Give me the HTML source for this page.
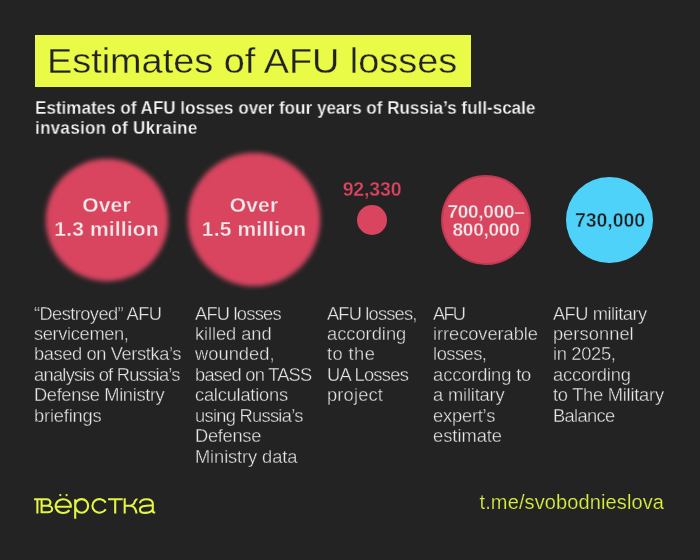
<!DOCTYPE html>
<html><head><meta charset="utf-8">
<style>
*{margin:0;padding:0;box-sizing:border-box}
html,body{width:700px;height:560px;overflow:hidden;background:#232323}
body{position:relative;font-family:"Liberation Sans",sans-serif}
.wrap{position:absolute;left:0;top:0;width:700px;height:560px;will-change:transform}
.a{position:absolute;white-space:nowrap}
.c{position:absolute;border-radius:50%;background:#D9445F}
.ct{position:absolute;text-align:center;font-weight:bold;color:#F1EAEA;font-size:19px;white-space:nowrap}
.d{position:absolute;font-size:18.3px;line-height:20px;height:20px;color:#E6E6E6;white-space:nowrap;-webkit-text-stroke:0.35px #232323}
</style></head><body><div class="wrap">

<div class="a" style="left:35px;top:35px;width:436px;height:52px;background:#E9FB46"></div>
<div class="a" style="left:47px;top:43.5px;font-size:35.5px;line-height:35.5px;color:#222;transform-origin:0 0;transform:scaleX(1.066);-webkit-text-stroke:0.3px #E9FB46">Estimates of AFU losses</div>
<div class="a" style="left:34.5px;top:98px;font-size:17.5px;line-height:20.3px;font-weight:bold;color:#F4F4F4;transform-origin:0 0;transform:scaleX(0.975);-webkit-text-stroke:0.3px #232323">Estimates of AFU losses over four years of Russia’s full-scale<br><span style="letter-spacing:0.28px">invasion of Ukraine</span></div>
<div class="c" style="left:45.6px;top:158.6px;width:122px;height:122.5px;filter:blur(2.4px);box-shadow:inset 0 0 0 3px #DF4964"></div>
<div class="c" style="left:187.5px;top:153.4px;width:132.5px;height:133px;filter:blur(2.7px);box-shadow:inset 0 0 0 3px #DF4964"></div>
<div class="c" style="left:357px;top:204.6px;width:30px;height:30.4px;"></div>
<div class="c" style="left:441px;top:175px;width:90px;height:90px;border:2.4px solid #BF3A52;box-shadow:inset 0 0 0 1px #DD4763"></div>
<div class="c" style="left:566px;top:177px;width:87px;height:86.4px;background:#4ED2FA"></div>
<div class="ct" style="left:44px;width:125px;top:192.5px;line-height:24.5px;font-size:21px;letter-spacing:0.15px;-webkit-text-stroke:0.3px #D9445F">Over<br>1.3 million</div>
<div class="ct" style="left:185px;width:138px;top:192.5px;line-height:24.5px;font-size:21px;letter-spacing:0.15px;-webkit-text-stroke:0.3px #D9445F">Over<br>1.5 million</div>
<div class="ct" style="left:322px;width:100px;top:177.2px;line-height:25px;font-size:19.5px;color:#D9445F;letter-spacing:-0.15px;-webkit-text-stroke:0.3px #232323">92,330</div>
<div class="ct" style="left:436px;width:100px;top:202.6px;line-height:18.7px;letter-spacing:-0.25px;-webkit-text-stroke:0.3px #D9445F">700,000–<br>800,000</div>
<div class="ct" style="left:560px;width:100px;top:207.6px;line-height:25px;font-size:19.5px;letter-spacing:-0.1px;color:#1E1E1E;-webkit-text-stroke:0.45px #4ED2FA">730,000</div>
<div class="d" style="left:34.0px;top:303.60px;letter-spacing:-0.586px">“Destroyed” AFU</div>
<div class="d" style="left:34.0px;top:324.02px;letter-spacing:-0.36px">servicemen,</div>
<div class="d" style="left:34.0px;top:344.44px;letter-spacing:-0.396px">based on Verstka’s</div>
<div class="d" style="left:34.0px;top:364.86px;letter-spacing:-0.722px">analysis of Russia’s</div>
<div class="d" style="left:34.0px;top:385.28px;letter-spacing:-0.359px">Defense Ministry</div>
<div class="d" style="left:34.0px;top:405.70px;letter-spacing:-0.175px">briefings</div>
<div class="d" style="left:195px;top:303.60px;letter-spacing:-0.766px">AFU losses</div>
<div class="d" style="left:195px;top:324.02px;letter-spacing:-0.076px">killed and</div>
<div class="d" style="left:195px;top:344.44px;letter-spacing:0.042px">wounded,</div>
<div class="d" style="left:195px;top:364.86px;letter-spacing:-0.76px">based on TASS</div>
<div class="d" style="left:195px;top:385.28px;letter-spacing:-0.221px">calculations</div>
<div class="d" style="left:195px;top:405.70px;letter-spacing:-0.71px">using Russia’s</div>
<div class="d" style="left:195px;top:426.12px;letter-spacing:-0.282px">Defense</div>
<div class="d" style="left:195px;top:446.54px;letter-spacing:-0.108px">Ministry data</div>
<div class="d" style="left:327px;top:303.60px;letter-spacing:-0.82px">AFU losses,</div>
<div class="d" style="left:327px;top:324.02px;letter-spacing:0.0px">according</div>
<div class="d" style="left:327px;top:344.44px;letter-spacing:0.42px">to the</div>
<div class="d" style="left:327px;top:364.86px;letter-spacing:-0.688px">UA Losses</div>
<div class="d" style="left:327px;top:385.28px;letter-spacing:0.166px">project</div>
<div class="d" style="left:433.1px;top:303.60px;letter-spacing:-1.8px">AFU</div>
<div class="d" style="left:433.1px;top:324.02px;letter-spacing:-0.073px">irrecoverable</div>
<div class="d" style="left:433.1px;top:344.44px;letter-spacing:-0.515px">losses,</div>
<div class="d" style="left:433.1px;top:364.86px;letter-spacing:-0.13px">according to</div>
<div class="d" style="left:433.1px;top:385.28px;letter-spacing:-0.175px">a military</div>
<div class="d" style="left:433.1px;top:405.70px;letter-spacing:-0.214px">expert’s</div>
<div class="d" style="left:433.1px;top:426.12px;letter-spacing:-0.026px">estimate</div>
<div class="d" style="left:552.9px;top:303.60px;letter-spacing:-0.475px">AFU military</div>
<div class="d" style="left:552.9px;top:324.02px;letter-spacing:0.062px">personnel</div>
<div class="d" style="left:552.9px;top:344.44px;letter-spacing:-0.302px">in 2025,</div>
<div class="d" style="left:552.9px;top:364.86px;letter-spacing:-0.15px">according</div>
<div class="d" style="left:552.9px;top:385.28px;letter-spacing:-0.238px">to The Military</div>
<div class="d" style="left:552.9px;top:405.70px;letter-spacing:-0.616px">Balance</div>
<svg class="a" style="left:0;top:0" width="700" height="560" viewBox="0 0 700 560"><g fill="none" stroke="#E4F642" stroke-width="2.1">
<path d="M34.1,499.3 H46.8 A3.7,3.25 0 0 1 46.8,505.8 H41.6 M37.4,499.3 V513.4 M41.6,499.3 V512.3 H47.8 A4.4,3.25 0 0 0 47.8,505.8 H41.6"/>
<path d="M55.6,506.7 H70.8 A7.6,6.8 0 1 0 69.4,510.1"/>
<path d="M75.2,499.3 V518.8 M75.2,505.9 A6.45,6.8 0 1 0 88.1,505.9 A6.45,6.8 0 1 0 75.2,505.9"/>
<path d="M105.7,502.6 A7.1,6.8 0 1 0 105.7,509.2"/>
<path d="M108.1,499.3 H122.7 M115.2,499.3 V513.4"/>
<path d="M124.7,498.3 V513.4 M124.7,505.7 H129.8 C132.8,505.7 134.4,503.3 135,501 C135.4,499.6 136,499.2 137.5,499.2 M129.8,505.7 C133.2,505.7 135.2,508.2 135.9,510.8 L136.6,513.4"/>
<path d="M139.8,503.2 C140.6,500.2 143,499.2 146.4,499.2 C150.6,499.2 152.8,500.8 152.8,503.8 V511.2 C152.8,512.2 153.6,512.5 155.2,512.5 M152.8,505.3 C150,505.4 145.5,505.6 142.9,506.3 C140.9,506.9 139.9,508.1 139.9,509.6 C139.9,511.6 141.9,512.9 145,512.9 C148.6,512.9 151.5,511.6 152.8,509.5"/>

</g><g fill="#E4F642"><circle cx="60.3" cy="495.1" r="1.15"/><circle cx="66.6" cy="495.1" r="1.15"/></g></svg>
<div class="a" style="left:479.5px;top:490.7px;font-size:20px;line-height:22px;color:#DCEF3F;letter-spacing:0.12px;-webkit-text-stroke:0.2px #232323">t.me/svobodnieslova</div>
</div></body></html>
